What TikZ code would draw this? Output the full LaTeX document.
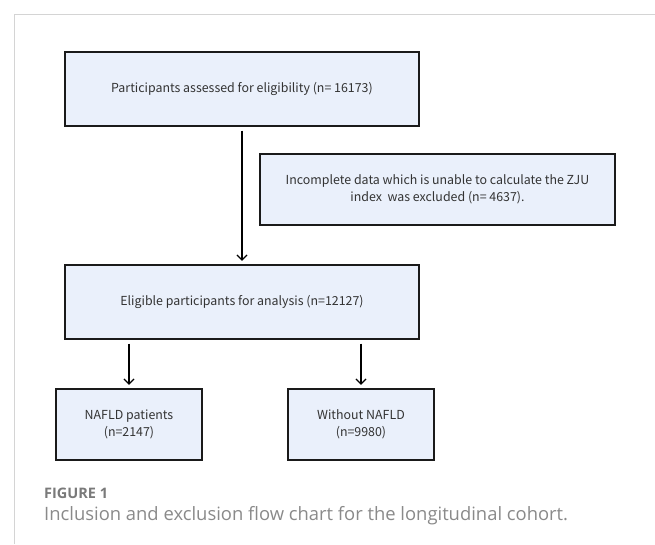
\documentclass[tikz,border=0pt]{standalone}
\usepackage{fontspec}
\setmainfont{Noto Sans CJK SC}
\newfontfamily\capfont{Open Sans}
\usetikzlibrary{arrows.meta}
\definecolor{boxfill}{HTML}{EAF0FB}
\definecolor{boxline}{HTML}{1A1A1A}
\definecolor{framegray}{HTML}{D4D4D4}
\definecolor{capgray}{HTML}{7A7A7A}
\definecolor{captext}{HTML}{8A8A8A}
\tikzset{
  flowbox/.style={draw=boxline, line width=1.4pt, fill=boxfill, align=center, inner sep=0pt, font=\fontsize{12.4}{17}\selectfont, text=black!80},
  flowarrow/.style={draw=black, line width=1.2pt, -{Straight Barb[length=5pt,width=10pt,line width=1.2pt]}, shorten <=4pt, shorten >=3.5pt}
}
\begin{document}
\begin{tikzpicture}[x=1pt,y=1pt]
\useasboundingbox (0,0) rectangle (655,544);
\fill[white] (0,0) rectangle (655,544);
% frame
\draw[framegray, line width=1pt] (14,0) -- (14,529) -- (655,529);
% boxes
\node[flowbox, minimum width=354pt, minimum height=74pt] (elig) at (242,455) {Participants assessed for eligibility (n= 16173)};
\node[flowbox, minimum width=355pt, minimum height=71pt] (excl) at (437.5,354.5) {Incomplete data which is unable to calculate the ZJU\\index\ \ was excluded (n= 4637).};
\node[flowbox, minimum width=354pt, minimum height=74pt] (anal) at (242,242) {Eligible participants for analysis (n=12127)};
\node[flowbox, minimum width=146pt, minimum height=71pt] (nafld) at (129,119.5) {NAFLD patients\\(n=2147)};
\node[flowbox, minimum width=146pt, minimum height=71pt] (without) at (361,119.5) {Without NAFLD\\(n=9980)};
% arrows
\draw[flowarrow] (elig.south) -- (anal.north);
\draw[flowarrow] (anal.south -| nafld.north) -- (nafld.north);
\draw[flowarrow] (anal.south -| without.north) -- (without.north);
% caption
\node[anchor=west, inner sep=0pt, text=capgray, font=\capfont\bfseries\fontsize{14.5}{17}\selectfont] (fig) at (44,51) {FIGURE 1};
\node[anchor=west, inner sep=0pt, text=captext, font=\capfont\fontsize{18.4}{22}\selectfont] (cap) at (44,28) {Inclusion and exclusion flow chart for the longitudinal cohort.};
\end{tikzpicture}
\end{document}
